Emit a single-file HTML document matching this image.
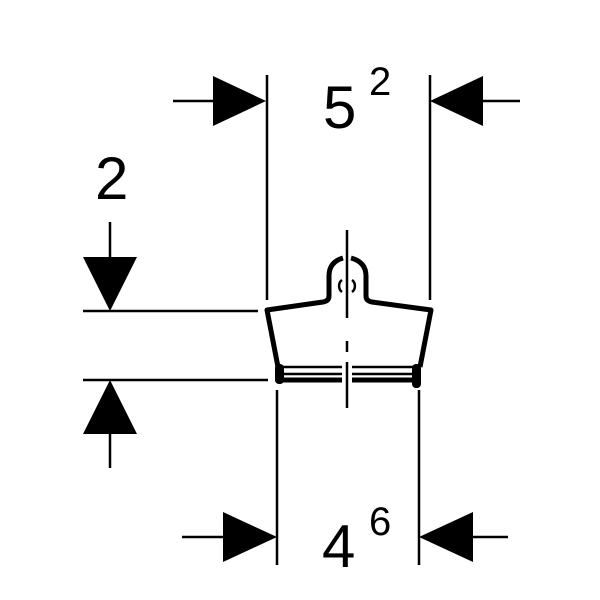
<!DOCTYPE html>
<html><head><style>body{margin:0;background:#fff}svg{display:block}</style></head><body>
<svg width="600" height="600" viewBox="0 0 600 600" xmlns="http://www.w3.org/2000/svg">
<g stroke="#000" stroke-width="2.5" fill="none">
<line x1="267" y1="75" x2="267" y2="300"/>
<line x1="430" y1="75" x2="430" y2="300"/>
<line x1="277" y1="390" x2="277" y2="565"/>
<line x1="419" y1="390" x2="419" y2="565"/>
<line x1="83" y1="311" x2="258" y2="311"/>
<line x1="83" y1="380" x2="268" y2="380"/>
<line x1="173" y1="101" x2="215" y2="101"/>
<line x1="481" y1="101" x2="520" y2="101"/>
<line x1="110" y1="222" x2="110" y2="259"/>
<line x1="110" y1="432" x2="110" y2="468"/>
<line x1="182" y1="537" x2="225" y2="537"/>
<line x1="471" y1="537" x2="508" y2="537"/>
<line x1="347" y1="230" x2="347" y2="318"/>
<line x1="347" y1="341" x2="347" y2="352"/>
<line x1="347" y1="362" x2="347" y2="408"/>
</g>
<g fill="#000">
<polygon points="266,101 213,76 213,126"/>
<polygon points="430,101 483,76 483,126"/>
<polygon points="110,311 83,257 137,257"/>
<polygon points="110,380 83,434 137,434"/>
<polygon points="277,537 223,512 223,562"/>
<polygon points="419,537 473,512 473,562"/>
</g>
<g stroke="#000" stroke-width="5" fill="none" stroke-linejoin="round">
<path d="M343,258 Q329,262 329,276 L329,296 Q329,301 323,302 L267,310 L278,367 L280,367"/>
<path d="M351,258 Q366,262 366,276 L366,296 Q366,301 372,302 L431,310 L420,367"/>
<line x1="276" y1="380" x2="342" y2="380"/>
<line x1="352" y1="380" x2="420" y2="380"/>
</g>
<g stroke="#000" stroke-width="2.5" fill="none">
<line x1="280" y1="367" x2="342" y2="367"/>
<line x1="352" y1="367" x2="418" y2="367"/>
<line x1="283" y1="374" x2="342" y2="374"/>
<line x1="352" y1="374" x2="415" y2="374"/>
<path d="M342,280 A6,7 0 0 0 342,292"/>
<path d="M352,280 A6,7 0 0 1 352,292"/>
</g>
<g fill="#000">
<rect x="275" y="364" width="9" height="20" rx="4"/>
<rect x="412" y="364" width="9" height="24" rx="4"/>
</g>
<g font-family="Liberation Sans, sans-serif" fill="#000">
<text x="323" y="128" font-size="60">5</text>
<text x="369" y="95" font-size="40">2</text>
<text x="95" y="199" font-size="60">2</text>
<text x="322" y="567" font-size="60">4</text>
<text x="369" y="535" font-size="40">6</text>
</g>
</svg>
</body></html>
